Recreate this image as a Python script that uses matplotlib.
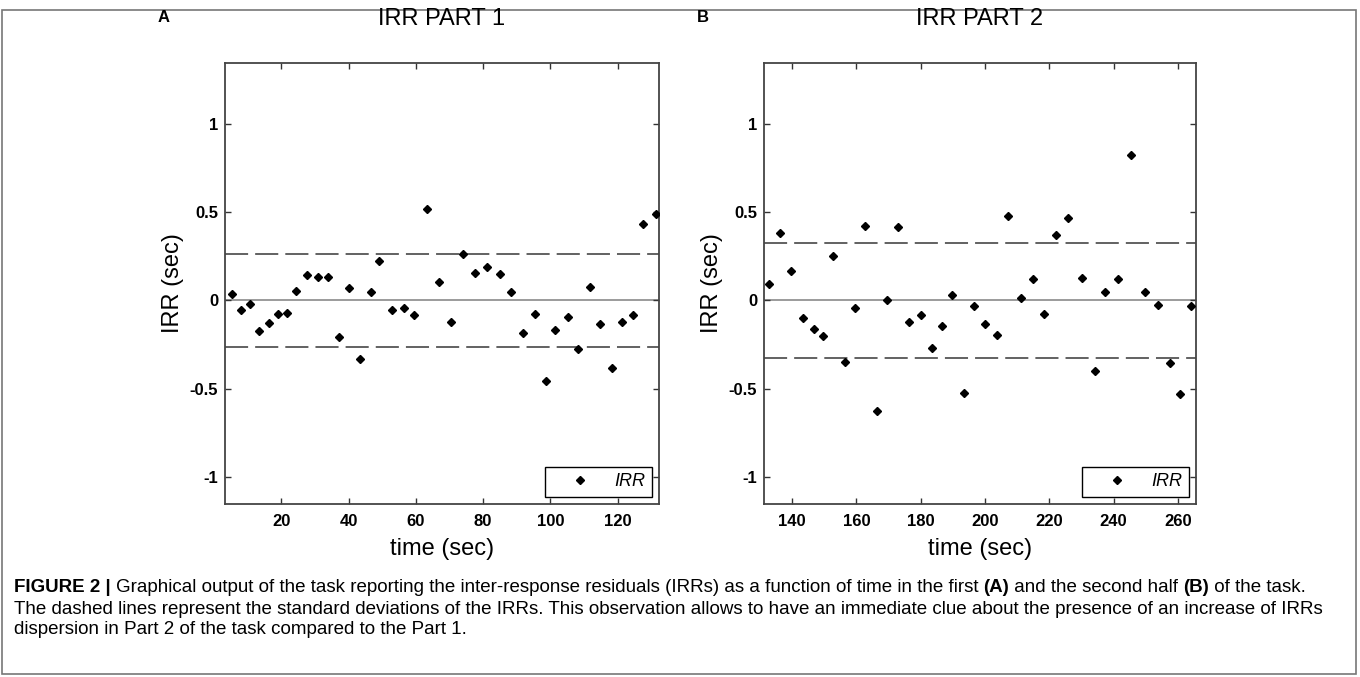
import numpy as np
import matplotlib.pyplot as plt
from matplotlib.patches import Rectangle
from matplotlib.ticker import FixedLocator

plt.rcParams['font.family'] = ['Liberation Sans', 'DejaVu Sans']

# part 1 data
t1 = [5.2, 8.0, 10.7, 13.4, 16.2, 18.9, 21.6, 24.3, 27.5, 30.8, 33.8, 37.1, 40.2, 43.4,
      46.5, 49.1, 53.0, 56.5, 59.5, 63.2, 67.0, 70.4, 74.1, 77.6, 81.2, 84.9, 88.4, 91.9,
      95.4, 98.8, 101.5, 105.1, 108.3, 111.8, 114.8, 118.3, 121.4, 124.6, 127.5, 131.4]
irr1 = [0.035, -0.056, -0.018, -0.173, -0.128, -0.077, -0.069, 0.056, 0.143, 0.13, 0.13,
        -0.209, 0.071, -0.333, 0.048, 0.224, -0.056, -0.04, -0.084, 0.518, 0.107, -0.122,
        0.262, 0.158, 0.19, 0.15, 0.046, -0.186, -0.077, -0.458, -0.165, -0.092, -0.277,
        0.078, -0.135, -0.384, -0.122, -0.084, 0.433, 0.49]
sd1 = 0.262

# part 2 data
t2 = [132.9, 136.3, 139.8, 143.5, 146.8, 149.6, 152.9, 156.5, 159.6, 162.8, 166.5, 169.4,
      172.9, 176.5, 180.2, 183.4, 186.6, 189.6, 193.4, 196.7, 199.9, 203.6, 207.3, 211.1,
      214.9, 218.5, 222.0, 225.9, 230.1, 234.1, 237.4, 241.5, 245.3, 249.9, 253.8, 257.4,
      260.7, 264.0]
irr2 = [0.092, 0.384, 0.165, -0.099, -0.163, -0.203, 0.252, -0.35, -0.041, 0.422, -0.628,
        0.003, 0.415, -0.122, -0.084, -0.267, -0.144, 0.032, -0.524, -0.033, -0.135, -0.196,
        0.479, 0.016, 0.12, -0.078, 0.369, 0.467, 0.127, -0.4, 0.046, 0.12, 0.824, 0.046,
        -0.027, -0.356, -0.53, -0.03]
sd2 = 0.325

panels = [
    ('A', 'IRR PART 1', t1, irr1, sd1, (3.2, 132.3), [20, 40, 60, 80, 100, 120]),
    ('B', 'IRR PART 2', t2, irr2, sd2, (131.3, 265.6), [140, 160, 180, 200, 220, 240, 260]),
]

W, H = 1360, 677
fig = plt.figure(figsize=(W / 100, H / 100), dpi=100)

axes_px = [(225, 63, 659, 504), (764, 63, 1196, 504)]
letter_x = [158, 697]

for (letter, title, t, irr, sd, xlim, xt), (x0, y0, x1, y1), lx in zip(panels, axes_px, letter_x):
    ax = fig.add_axes([x0 / W, 1 - y1 / H, (x1 - x0) / W, (y1 - y0) / H])
    ax.axhline(0, color='#8a8a8a', lw=1.2, zorder=1)
    ax.axhline(sd, color='#555555', lw=1.3, dashes=(12.8, 3.9), zorder=1)
    ax.axhline(-sd, color='#555555', lw=1.3, dashes=(12.8, 3.9), zorder=1)
    ax.plot(t, irr, 'D', color='black', ms=3.8, ls='none', label='IRR', zorder=3)
    ax.set_xlim(*xlim)
    ax.set_ylim(-1.153, 1.345)
    ax.xaxis.set_major_locator(FixedLocator(xt))
    ax.set_yticks([-1, -0.5, 0, 0.5, 1])
    ax.set_yticklabels(['-1', '-0.5', '0', '0.5', '1'])
    ax.tick_params(direction='in', top=True, right=True, length=4, width=1,
                   color='#333333', labelsize=12)
    ax.tick_params(axis='x', pad=7)
    ax.tick_params(axis='y', pad=5)
    for lab in ax.get_xticklabels() + ax.get_yticklabels():
        lab.set_fontweight('bold')
    for sp in ax.spines.values():
        sp.set_color('#444444')
        sp.set_linewidth(1.3)
    ax.set_xlabel('time (sec)', fontsize=17, labelpad=7)
    ax.set_ylabel('IRR (sec)', fontsize=17, labelpad=4)
    fig.text((x0 + x1) / 2 / W, 1 - 19 / H, title, fontsize=17, ha='center', va='center')
    leg = ax.legend(loc='lower right', fancybox=False, edgecolor='black', framealpha=1,
                    borderaxespad=0.4, handletextpad=0.3, handlelength=3.2,
                    prop={'style': 'italic', 'size': 13}, borderpad=0.35)
    leg.get_frame().set_linewidth(1.0)
    fig.text(lx / W, 1 - 18 / H, letter, fontsize=12, fontweight='bold', va='center')

# outer frame
fig.patches.append(Rectangle((2 / W, 1 - 674 / H), 1354 / W, 664 / H, transform=fig.transFigure,
                             fill=False, edgecolor='#777777', lw=1.2))

# caption, written piece by piece so bold parts sit inline
cap_size = 13.5
renderer = fig.canvas.get_renderer()
caption = [
    [('FIGURE 2 | ', 'bold'),
     ('Graphical output of the task reporting the inter-response residuals (IRRs) as a function of time in the first ', 'normal'),
     ('(A)', 'bold'), (' and the second half ', 'normal'), ('(B)', 'bold'), (' of the task.', 'normal')],
    [('The dashed lines represent the standard deviations of the IRRs. This observation allows to have an immediate clue about the presence of an increase of IRRs', 'normal')],
    [('dispersion in Part 2 of the task compared to the Part 1.', 'normal')],
]
for row, ypx in zip(caption, [588, 609, 630]):
    xpx = 14
    for s, wt in row:
        txt = fig.text(xpx / W, 1 - ypx / H, s, fontsize=cap_size, fontweight=wt, va='center')
        xpx += txt.get_window_extent(renderer).width

fig.savefig('out.png', dpi=100)
